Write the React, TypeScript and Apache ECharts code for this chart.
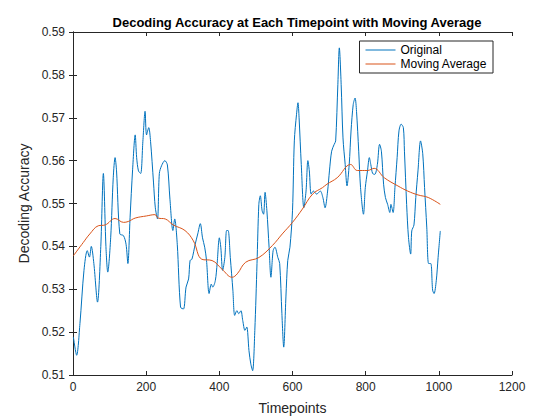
import * as echarts from 'echarts';
import { useEffect, useRef } from 'react';

const origT = [1, 10, 19, 30, 39, 45, 50, 57, 67, 76, 83, 90, 95, 103, 110, 115, 119, 128, 138, 145, 150, 156, 163, 170, 174, 179, 185, 191, 197, 201, 207, 212, 220, 225, 231, 236, 242, 251, 258, 265, 273, 278, 285, 294, 302, 309, 316, 320, 325, 334, 341, 348, 354, 360, 365, 372, 378, 382, 389, 394, 400, 404, 409, 415, 420, 424, 430, 437, 442, 448, 453, 459, 464, 470, 475, 481, 486, 491, 497, 503, 508, 512, 517, 521, 525, 530, 536, 541, 547, 552, 560, 565, 571, 576, 582, 587, 593, 600, 605, 611, 615, 618, 624, 631, 637, 642, 646, 651, 657, 666, 676, 683, 689, 696, 701, 707, 714, 718, 724, 728, 733, 738, 744, 749, 755, 760, 766, 771, 775, 781, 786, 794, 799, 805, 810, 814, 819, 825, 832, 838, 843, 849, 854, 860, 866, 869, 875, 880, 886, 891, 897, 903, 906, 912, 917, 923, 926, 932, 937, 943, 950, 956, 961, 967, 972, 978, 983, 987, 993, 998, 1004];
const origV = [0.5189, 0.5146, 0.522, 0.5344, 0.539, 0.5375, 0.54, 0.536, 0.527, 0.54, 0.557, 0.54, 0.534, 0.542, 0.556, 0.5607, 0.5576, 0.5429, 0.5425, 0.5405, 0.536, 0.5467, 0.558, 0.566, 0.5607, 0.5576, 0.557, 0.5645, 0.5715, 0.566, 0.5677, 0.5645, 0.555, 0.549, 0.5464, 0.557, 0.5588, 0.56, 0.559, 0.551, 0.5437, 0.5464, 0.5405, 0.5258, 0.5254, 0.5305, 0.5324, 0.5367, 0.537, 0.5405, 0.5429, 0.5453, 0.542, 0.5398, 0.5367, 0.529, 0.5312, 0.5305, 0.532, 0.536, 0.542, 0.5398, 0.5344, 0.5374, 0.5437, 0.5437, 0.5374, 0.5298, 0.5239, 0.525, 0.5243, 0.525, 0.5227, 0.5204, 0.5212, 0.5157, 0.5126, 0.511, 0.5204, 0.536, 0.5498, 0.5518, 0.5483, 0.5475, 0.5526, 0.5483, 0.5398, 0.5328, 0.539, 0.5398, 0.5374, 0.536, 0.5243, 0.5165, 0.5282, 0.5367, 0.5398, 0.5483, 0.5646, 0.5708, 0.5735, 0.57, 0.5591, 0.549, 0.5529, 0.56, 0.5576, 0.5522, 0.5529, 0.5522, 0.5529, 0.5514, 0.549, 0.5529, 0.5576, 0.5622, 0.5638, 0.5646, 0.5778, 0.5863, 0.5778, 0.5653, 0.5591, 0.5541, 0.5591, 0.5669, 0.5731, 0.5746, 0.5715, 0.5622, 0.5537, 0.5475, 0.5537, 0.5576, 0.5607, 0.5591, 0.557, 0.5568, 0.5591, 0.5638, 0.5622, 0.5545, 0.5514, 0.5498, 0.5479, 0.5498, 0.5479, 0.5537, 0.5607, 0.5669, 0.5685, 0.5677, 0.5622, 0.5498, 0.5421, 0.5382, 0.5436, 0.545, 0.5514, 0.5576, 0.5646, 0.5616, 0.5537, 0.5445, 0.536, 0.536, 0.5298, 0.529, 0.532, 0.5374, 0.5436, 0.5479];

const avgT = [1, 28, 46, 69, 88, 115, 138, 151, 170, 201, 224, 233, 252, 274, 306, 329, 352, 380, 407, 435, 449, 472, 508, 545, 572, 600, 627, 655, 682, 694, 722, 759, 777, 805, 823, 851, 888, 915, 943, 971, 1004];
const avgV = [0.5378, 0.5409, 0.5429, 0.5448, 0.545, 0.5465, 0.5456, 0.5458, 0.5466, 0.5471, 0.5474, 0.5466, 0.5464, 0.545, 0.5437, 0.5413, 0.537, 0.5367, 0.5347, 0.5328, 0.5336, 0.5363, 0.5374, 0.5402, 0.5429, 0.5456, 0.5487, 0.5522, 0.5537, 0.5545, 0.556, 0.5591, 0.5577, 0.5577, 0.5582, 0.556, 0.5541, 0.5529, 0.552, 0.5514, 0.5498];

const font = 'Liberation Sans, Arial, sans-serif';
const axisColor = '#262626';

const App = () => {
  const chartRef = useRef<HTMLDivElement>(null);

  useEffect(() => {
    if (!chartRef.current) return;
    const chart = echarts.init(chartRef.current, undefined, { renderer: 'svg' });

    const baseAxis = {
      axisLine: { lineStyle: { color: axisColor } },
      axisTick: { inside: true, length: 4, lineStyle: { color: axisColor } },
      splitLine: { show: false },
    };

    chart.setOption({
      animation: false,
      textStyle: { fontFamily: font },
      title: {
        left: 292,
        textAlign: 'center',
        text: 'Decoding Accuracy at Each Timepoint with Moving Average',
        textStyle: { color: '#000', fontFamily: font, fontSize: 13, fontWeight: 'bold' },
        top: 11,
      },
      legend: {
        right: 67,
        top: 41,
        orient: 'vertical',
        backgroundColor: '#fff',
        borderColor: axisColor,
        borderWidth: 1,
        borderRadius: 0,
        padding: [3, 6, 3, 6],
        itemGap: 2,
        itemWidth: 30,
        itemHeight: 13,
        icon: 'path://M0,6L30,6L30,7L0,7Z',
        textStyle: { color: '#000', fontFamily: font, fontSize: 12 },
        data: ['Original', 'Moving Average'],
      },
      grid: { left: 73, right: 48, top: 32, bottom: 45 },
      xAxis: [
        {
          ...baseAxis,
          type: 'value',
          min: 0,
          max: 1200,
          interval: 200,
          name: 'Timepoints',
          nameLocation: 'middle',
          nameGap: 26,
          nameTextStyle: { color: axisColor, fontSize: 14, fontFamily: font },
          axisLabel: { color: axisColor, fontSize: 12, margin: 6, formatter: (v: number) => String(v) },
        },
        {
          ...baseAxis,
          type: 'value',
          position: 'top',
          min: 0,
          max: 1200,
          interval: 200,
          axisLabel: { show: false },
        },
      ],
      yAxis: [
        {
          ...baseAxis,
          type: 'value',
          min: 0.51,
          max: 0.59,
          interval: 0.01,
          name: 'Decoding Accuracy',
          nameLocation: 'middle',
          nameGap: 40,
          nameTextStyle: { color: axisColor, fontSize: 14, fontFamily: font },
          axisLabel: { color: axisColor, fontSize: 12, margin: 8, formatter: (v: number) => v.toFixed(2) },
        },
        {
          ...baseAxis,
          type: 'value',
          position: 'right',
          min: 0.51,
          max: 0.59,
          interval: 0.01,
          axisLabel: { show: false },
        },
      ],
      series: [
        {
          name: 'Original',
          type: 'line',
          data: origT.map((t, i) => [t, origV[i]]),
          smooth: 0.3,
          showSymbol: false,
          lineStyle: { color: '#0072BD', width: 1 },
          itemStyle: { color: '#0072BD' },
        },
        {
          name: 'Moving Average',
          type: 'line',
          data: avgT.map((t, i) => [t, avgV[i]]),
          smooth: 0.4,
          showSymbol: false,
          lineStyle: { color: '#D95319', width: 1 },
          itemStyle: { color: '#D95319' },
        },
      ],
    });

    return () => {
      chart.dispose();
    };
  }, []);

  return (
    <div
      ref={chartRef}
      style={{ position: 'absolute', left: 0, top: 0, width: 560, height: 420, background: '#fff' }}
    />
  );
};

export default App;
